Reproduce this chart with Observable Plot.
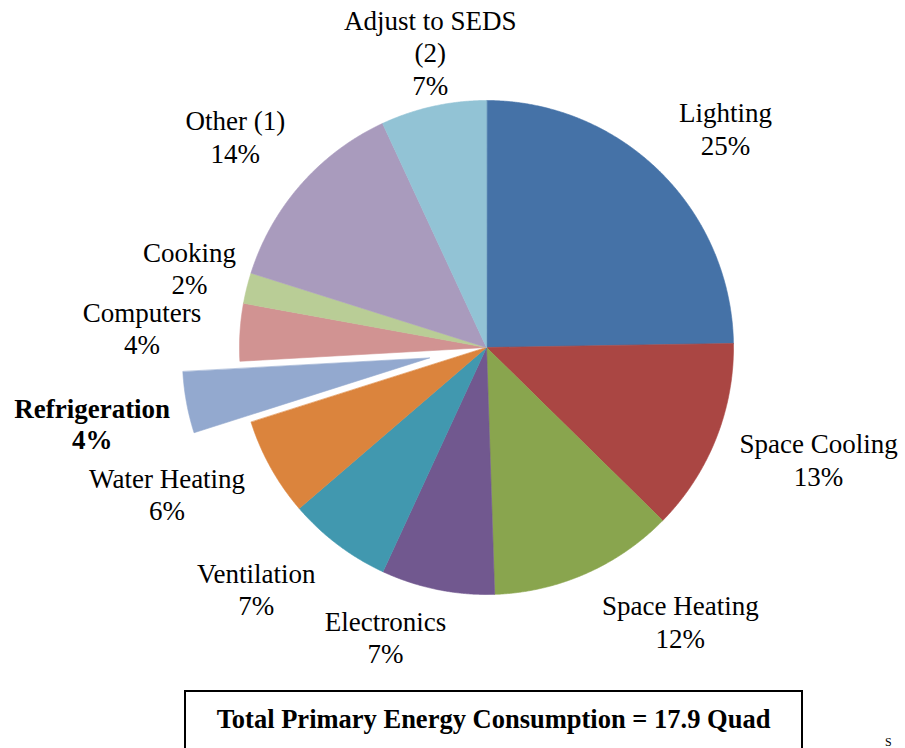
<!DOCTYPE html>
<html>
<head>
<meta charset="utf-8">
<script src="https://cdn.jsdelivr.net/npm/d3@7"></script>
<script src="https://cdn.jsdelivr.net/npm/@observablehq/plot@0.6"></script>
<style>
  html, body { margin: 0; padding: 0; background: #fff; overflow: hidden; }
  #wrap { position: relative; width: 905px; height: 748px; overflow: hidden; font-family: "Liberation Serif", "Times New Roman", serif; }
  #box { position: absolute; left: 184px; top: 690px; width: 615px; height: 80px; border: 2px solid #000; box-sizing: content-box; text-align: center; }
  #box span { display: inline-block; margin-top: 12px; font-weight: bold; font-size: 26.5px; line-height: 30px; }
  #src { position: absolute; left: 885px; top: 736px; font-size: 12px; line-height: 12px; white-space: nowrap; }
</style>
</head>
<body>
<div id="wrap">
  <div id="chart"></div>
  <div id="box"><span id="boxText"></span></div>
  <div id="src"></div>
</div>
<script>
// ---- data ----
const categories = ["Lighting", "Space Cooling", "Space Heating", "Electronics", "Ventilation", "Water Heating", "Refrigeration", "Computers", "Cooking", "Other (1)", "Adjust to SEDS (2)"];
const labelNames = ["Lighting", "Space Cooling", "Space Heating", "Electronics", "Ventilation", "Water Heating", "Refrigeration", "Computers", "Cooking", "Other (1)", "Adjust to SEDS\n(2)"];
const shares = [24.7, 12.6, 12.1, 7.4, 6.8, 6.4, 4.0, 3.75, 2.0, 13.2, 6.9];
const pctLabels = ["25%", "13%", "12%", "7%", "7%", "6%", "4%", "4%", "2%", "14%", "7%"];
const highlighted = "Refrigeration";
const totalText = "Total Primary Energy Consumption = 17.9 Quad";
const sourceText = "S";

// ---- style / layout ----
const colors = ["#4572A7", "#AA4643", "#89A54E", "#71588F", "#4198AF", "#DB843D", "#93A9CF", "#D19392", "#B9CD96", "#A99BBD", "#92C3D5"];
const W = 905, H = 688;
const cx = 486, cy = 347, R = 247, explodeDist = 58;
// label placement: angular nudge (deg) from slice mid-angle, radial distance (px)
const labelNudge = [3.2, -2.85, -11.4, 7.7, 6.4, 4.3, -0.8, -0.6, 0.8, -1.5, 1.6];
const labelDist = [323, 351, 337, 308, 335, 352, 402, 345, 307, 327, 299];
const labelShiftY = -2;

const arcs = d3.pie().sort(null).value(d => d)(shares);
const step = Math.PI / 720;

const slices = arcs.map((a, i) => {
  const mid = (a.startAngle + a.endAngle) / 2;
  const off = categories[i] === highlighted ? explodeDist : 0;
  const ox = cx + off * Math.sin(mid), oy = cy - off * Math.cos(mid);
  const pts = [{x: ox, y: oy}];
  const n = Math.max(2, Math.ceil((a.endAngle - a.startAngle) / step));
  for (let k = 0; k <= n; k++) {
    const t = a.startAngle + (a.endAngle - a.startAngle) * k / n;
    pts.push({x: ox + R * Math.sin(t), y: oy - R * Math.cos(t)});
  }
  return {name: categories[i], color: colors[i], pts};
});

const labels = arcs.map((a, i) => {
  const mid = (a.startAngle + a.endAngle) / 2 + labelNudge[i] * Math.PI / 180;
  return {
    text: labelNames[i] + "\n" + pctLabels[i],
    bold: categories[i] === highlighted,
    x: cx + labelDist[i] * Math.sin(mid),
    y: cy - labelDist[i] * Math.cos(mid) + labelShiftY
  };
});

const font = "'Liberation Serif', 'Times New Roman', serif";

const chart = Plot.plot({
  width: W,
  height: H,
  margin: 0,
  x: {domain: [0, W], range: [0, W], axis: null},
  y: {domain: [0, H], range: [0, H], axis: null},
  style: {background: "#fff", fontFamily: font},
  marks: [
    ...slices.map(s => Plot.line(s.pts, {x: "x", y: "y", fill: s.color, stroke: s.color, strokeWidth: 0.6, curve: "linear-closed"})),
    Plot.text(labels.filter(d => !d.bold), {x: "x", y: "y", text: "text", fontSize: 27, lineHeight: 1.2, fill: "#000", textAnchor: "middle", fontFamily: font}),
    Plot.text(labels.filter(d => d.bold), {x: "x", y: "y", text: "text", fontSize: 27, lineHeight: 1.16, fill: "#000", fontWeight: "bold", textAnchor: "middle", fontFamily: font})
  ]
});

document.getElementById("chart").appendChild(chart);
document.getElementById("boxText").textContent = totalText;
document.getElementById("src").textContent = sourceText;
</script>
</body>
</html>
